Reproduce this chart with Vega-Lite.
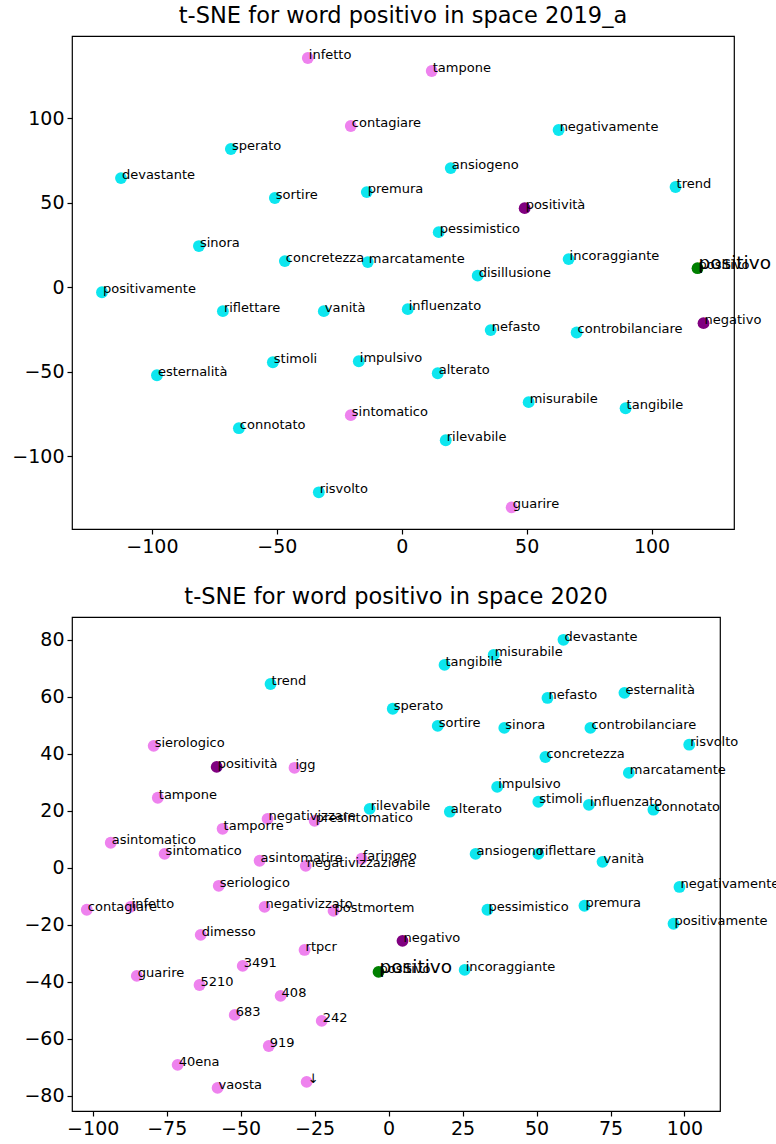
{
  "$schema": "https://vega.github.io/schema/vega-lite/v6.json",
  "padding": {"left": 11, "top": 3, "right": 5, "bottom": 5},
  "background": "white",
  "bounds": "flush",
  "spacing": 88,
  "config": {
    "view": {"stroke": "black", "strokeWidth": 1.2},
    "title": {"font": "DejaVu Sans", "fontSize": 22.5, "fontWeight": "normal", "color": "black", "offset": 9},
    "axis": {"grid": false, "domain": false, "title": null, "tickColor": "black", "tickSize": 5, "tickWidth": 1.2, "labelFont": "DejaVu Sans", "labelFontSize": 19, "labelColor": "black", "labelPadding": 3}
  },
  "datasets": {
    "s2019": [
      {"word": "infetto", "x": -37.6, "y": 135.5, "kind": "covid"},
      {"word": "tampone", "x": 12, "y": 127.8, "kind": "covid"},
      {"word": "contagiare", "x": -20.4, "y": 95.3, "kind": "covid"},
      {"word": "negativamente", "x": 62.8, "y": 92.9, "kind": "base"},
      {"word": "sperato", "x": -68.4, "y": 81.7, "kind": "base"},
      {"word": "ansiogeno", "x": 19.6, "y": 70.4, "kind": "base"},
      {"word": "devastante", "x": -112.4, "y": 64.5, "kind": "base"},
      {"word": "trend", "x": 109.6, "y": 59.2, "kind": "base"},
      {"word": "premura", "x": -14, "y": 56.2, "kind": "base"},
      {"word": "sortire", "x": -50.8, "y": 52.7, "kind": "base"},
      {"word": "positività", "x": 49.2, "y": 46.7, "kind": "neighbor"},
      {"word": "pessimistico", "x": 14.8, "y": 32.5, "kind": "base"},
      {"word": "sinora", "x": -81.2, "y": 24.3, "kind": "base"},
      {"word": "concretezza", "x": -46.8, "y": 15.4, "kind": "base"},
      {"word": "marcatamente", "x": -13.6, "y": 14.8, "kind": "base"},
      {"word": "incoraggiante", "x": 66.8, "y": 16.6, "kind": "base"},
      {"word": "positivo", "x": 118.4, "y": 11.2, "kind": "target"},
      {"word": "disillusione", "x": 30.4, "y": 6.8, "kind": "base"},
      {"word": "positivamente", "x": -120, "y": -3, "kind": "base"},
      {"word": "riflettare", "x": -71.6, "y": -14.2, "kind": "base"},
      {"word": "vanità", "x": -31.2, "y": -14.2, "kind": "base"},
      {"word": "influenzato", "x": 2.4, "y": -13, "kind": "base"},
      {"word": "nefasto", "x": 35.6, "y": -25.4, "kind": "base"},
      {"word": "controbilanciare", "x": 70, "y": -26.8, "kind": "base"},
      {"word": "negativo", "x": 120.8, "y": -21.3, "kind": "neighbor"},
      {"word": "stimoli", "x": -51.6, "y": -44.4, "kind": "base"},
      {"word": "impulsivo", "x": -17.2, "y": -43.8, "kind": "base"},
      {"word": "alterato", "x": 14.4, "y": -50.9, "kind": "base"},
      {"word": "esternalità", "x": -98, "y": -52.1, "kind": "base"},
      {"word": "misurabile", "x": 50.8, "y": -68, "kind": "base"},
      {"word": "tangibile", "x": 89.6, "y": -71.6, "kind": "base"},
      {"word": "sintomatico", "x": -20.4, "y": -75.7, "kind": "covid"},
      {"word": "connotato", "x": -65.2, "y": -83.4, "kind": "base"},
      {"word": "rilevabile", "x": 17.6, "y": -90.5, "kind": "base"},
      {"word": "risvolto", "x": -33.2, "y": -121.3, "kind": "base"},
      {"word": "guarire", "x": 44, "y": -130.2, "kind": "covid"}
    ],
    "s2020": [
      {"word": "trend", "x": -39.9, "y": 64.5, "kind": "base"},
      {"word": "sperato", "x": 1.4, "y": 55.8, "kind": "base"},
      {"word": "sierologico", "x": -79.4, "y": 42.8, "kind": "covid"},
      {"word": "positività", "x": -58.1, "y": 35.4, "kind": "neighbor"},
      {"word": "igg", "x": -31.8, "y": 35.1, "kind": "covid"},
      {"word": "tampone", "x": -78, "y": 24.6, "kind": "covid"},
      {"word": "rilevabile", "x": -6.4, "y": 20.7, "kind": "base"},
      {"word": "negativizzare", "x": -40.9, "y": 17.2, "kind": "covid"},
      {"word": "presintomatico", "x": -25, "y": 16.5, "kind": "covid"},
      {"word": "tamporre", "x": -56.1, "y": 13.7, "kind": "covid"},
      {"word": "asintomatico", "x": -93.9, "y": 8.8, "kind": "covid"},
      {"word": "devastante", "x": 59.1, "y": 80, "kind": "base"},
      {"word": "misurabile", "x": 35.5, "y": 74.7, "kind": "base"},
      {"word": "tangibile", "x": 18.9, "y": 71.2, "kind": "base"},
      {"word": "nefasto", "x": 53.7, "y": 59.6, "kind": "base"},
      {"word": "esternalità", "x": 79.7, "y": 61.4, "kind": "base"},
      {"word": "sortire", "x": 16.6, "y": 49.8, "kind": "base"},
      {"word": "sinora", "x": 39.1, "y": 49.1, "kind": "base"},
      {"word": "controbilanciare", "x": 68.2, "y": 49.1, "kind": "base"},
      {"word": "risvolto", "x": 101.6, "y": 43.2, "kind": "base"},
      {"word": "concretezza", "x": 53, "y": 38.9, "kind": "base"},
      {"word": "marcatamente", "x": 81.2, "y": 33.3, "kind": "base"},
      {"word": "impulsivo", "x": 36.7, "y": 28.4, "kind": "base"},
      {"word": "stimoli", "x": 50.6, "y": 23.2, "kind": "base"},
      {"word": "influenzato", "x": 67.7, "y": 22.1, "kind": "base"},
      {"word": "connotato", "x": 89.5, "y": 20.4, "kind": "base"},
      {"word": "alterato", "x": 20.7, "y": 19.7, "kind": "base"},
      {"word": "ansiogeno", "x": 29.4, "y": 4.9, "kind": "base"},
      {"word": "riflettare", "x": 50.6, "y": 4.9, "kind": "base"},
      {"word": "vanità", "x": 72.3, "y": 2.1, "kind": "base"},
      {"word": "negativamente", "x": 98.3, "y": -6.7, "kind": "base"},
      {"word": "pessimistico", "x": 33.4, "y": -14.7, "kind": "base"},
      {"word": "premura", "x": 66.2, "y": -13.3, "kind": "base"},
      {"word": "positivamente", "x": 96.3, "y": -19.6, "kind": "base"},
      {"word": "negativo", "x": 4.7, "y": -25.6, "kind": "neighbor"},
      {"word": "positivo", "x": -3.4, "y": -36.5, "kind": "target"},
      {"word": "incoraggiante", "x": 25.7, "y": -35.8, "kind": "base"},
      {"word": "sintomatico", "x": -75.7, "y": 4.9, "kind": "covid"},
      {"word": "asintomatire", "x": -43.6, "y": 2.5, "kind": "covid"},
      {"word": "negativizzazione", "x": -28, "y": 0.7, "kind": "covid"},
      {"word": "faringeo", "x": -9.1, "y": 3.2, "kind": "covid"},
      {"word": "seriologico", "x": -57.4, "y": -6.3, "kind": "covid"},
      {"word": "contagiare", "x": -102, "y": -14.7, "kind": "covid"},
      {"word": "infetto", "x": -87.2, "y": -13.7, "kind": "covid"},
      {"word": "negativizzato", "x": -41.9, "y": -13.7, "kind": "covid"},
      {"word": "postmortem", "x": -18.6, "y": -15.1, "kind": "covid"},
      {"word": "dimesso", "x": -63.5, "y": -23.5, "kind": "covid"},
      {"word": "rtpcr", "x": -28.4, "y": -28.8, "kind": "covid"},
      {"word": "3491", "x": -49.3, "y": -34.4, "kind": "covid"},
      {"word": "guarire", "x": -85.1, "y": -37.9, "kind": "covid"},
      {"word": "5210", "x": -63.9, "y": -41.1, "kind": "covid"},
      {"word": "408", "x": -36.5, "y": -44.9, "kind": "covid"},
      {"word": "683", "x": -52, "y": -51.6, "kind": "covid"},
      {"word": "242", "x": -22.6, "y": -53.7, "kind": "covid"},
      {"word": "919", "x": -40.5, "y": -62.5, "kind": "covid"},
      {"word": "40ena", "x": -71.3, "y": -69.1, "kind": "covid"},
      {"word": "vaosta", "x": -57.8, "y": -77.2, "kind": "covid"},
      {"word": "↓", "x": -27.7, "y": -75.1, "kind": "covid"}
    ]
  },
  "vconcat": [
    {
      "title": "t-SNE for word positivo in space 2019_a",
      "width": 662,
      "height": 493,
      "data": {"name": "s2019"},
      "encoding": {
        "x": {"field": "x", "type": "quantitative", "scale": {"domain": [-132, 133], "nice": false, "zero": false}, "axis": {"values": [-100, -50, 0, 50, 100]}},
        "y": {"field": "y", "type": "quantitative", "scale": {"domain": [-143, 148.5], "nice": false, "zero": false}, "axis": {"values": [-100, -50, 0, 50, 100]}}
      },
      "layer": [
        {"mark": {"type": "circle", "size": 140, "opacity": 1},
         "encoding": {"color": {"field": "kind", "type": "nominal", "legend": null, "scale": {"domain": ["base", "covid", "neighbor", "target"], "range": ["#0de6ef", "#ee82ee", "#800080", "#008000"]}}}},
        {"mark": {"type": "text", "align": "left", "baseline": "alphabetic", "dx": 1, "dy": 1, "font": "DejaVu Sans", "fontSize": 13, "color": "black"},
         "encoding": {"text": {"field": "word"}}},
        {"transform": [{"filter": "datum.kind == 'target'"}],
         "mark": {"type": "text", "align": "left", "baseline": "alphabetic", "dx": 1, "dy": 1, "font": "DejaVu Sans", "fontSize": 18.5, "color": "black"},
         "encoding": {"text": {"field": "word"}}}
      ]
    },
    {
      "title": "t-SNE for word positivo in space 2020",
      "width": 648,
      "height": 494,
      "data": {"name": "s2020"},
      "encoding": {
        "x": {"field": "x", "type": "quantitative", "scale": {"domain": [-107, 112], "nice": false, "zero": false}, "axis": {"values": [-100, -75, -50, -25, 0, 25, 50, 75, 100]}},
        "y": {"field": "y", "type": "quantitative", "scale": {"domain": [-85.3, 88], "nice": false, "zero": false}, "axis": {"values": [-80, -60, -40, -20, 0, 20, 40, 60, 80]}}
      },
      "layer": [
        {"mark": {"type": "circle", "size": 140, "opacity": 1},
         "encoding": {"color": {"field": "kind", "type": "nominal", "legend": null, "scale": {"domain": ["base", "covid", "neighbor", "target"], "range": ["#0de6ef", "#ee82ee", "#800080", "#008000"]}}}},
        {"mark": {"type": "text", "align": "left", "baseline": "alphabetic", "dx": 1, "dy": 1, "font": "DejaVu Sans", "fontSize": 13, "color": "black"},
         "encoding": {"text": {"field": "word"}}},
        {"transform": [{"filter": "datum.kind == 'target'"}],
         "mark": {"type": "text", "align": "left", "baseline": "alphabetic", "dx": 1, "dy": 1, "font": "DejaVu Sans", "fontSize": 18.5, "color": "black"},
         "encoding": {"text": {"field": "word"}}}
      ]
    }
  ]
}
